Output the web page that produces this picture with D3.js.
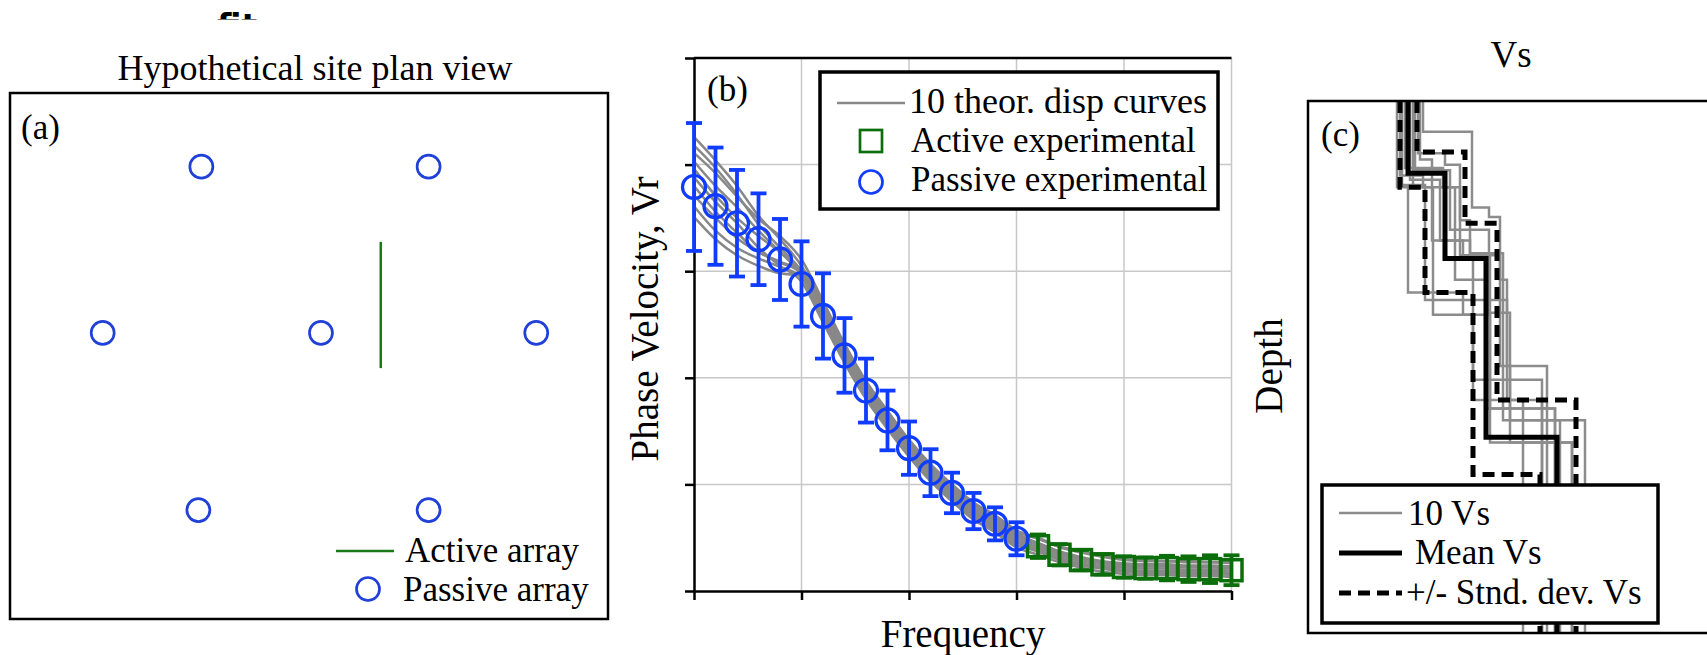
<!DOCTYPE html>
<meta charset="utf-8">
<style>
    body { margin: 0; background: #fff; }
    svg { display: block; font-family: "Liberation Serif", "Times New Roman", Tinos, serif; }
    .grid line { stroke: #c8c8c8; stroke-width: 1.5px; }
    .axis path, .axis line { stroke: #000; stroke-width: 2.5px; }
    .theor { fill: none; stroke: #888; stroke-width: 2.5px; }
    .prof { fill: none; stroke: #8c8c8c; stroke-width: 2.5px; }
    .lbl { font-size: 35px; fill: #000; }
    .ttl { font-size: 39px; fill: #000; }
</style>
<svg width="1707" height="655"></svg>
<script src="https://d3js.org/d3.v7.min.js"></script>
<script>

    // ---- (a) site plan, plan coordinates (0-100 both ways)
    var planX = [32, 70, 15.5, 52, 88, 31.5, 70],
        planY = [14, 14, 45.6, 45.6, 45.6, 79.3, 79.3];
    var activeArrayX = 62,
        activeArrayY = [28.3, 52.3];

    // ---- (b) dispersion data
    var freqPassive = [5, 6, 7, 8, 9, 10, 11, 12, 13, 14, 15, 16, 17, 18, 19, 20],
        vrPassive = [379, 361, 345, 330, 311, 288, 258, 221, 188, 160, 134, 111, 92, 75, 63, 49],
        errPassive = [60, 55, 50, 43, 38, 40, 40, 35, 30, 28, 25, 22, 19, 17, 15.5, 15.5];
    var freqActive = [21, 22, 23, 24, 25, 26, 27, 28, 29, 30],
        vrActive = [42, 34, 29, 25, 22.5, 21.5, 21.5, 20.5, 20.5, 19.5],
        errActive = [11, 10, 9.5, 9.5, 10, 10, 11.5, 12, 13, 14];
    var freqTheor = d3.range(5, 31);
    var theorCurves = [
        [426, 404, 380, 352, 330, 305, 270, 230, 196, 168, 141, 118, 99, 82, 70, 56, 49, 41, 36, 32, 29, 28, 28, 27, 27, 26],
        [418, 397, 372, 344, 322, 300, 262, 224, 193, 165, 139, 116, 97, 80, 68, 54, 45, 37, 31, 27, 25, 24, 24, 23, 23, 22],
        [411, 392, 370, 349, 333, 311, 272, 232, 197, 169, 142, 119, 100, 83, 71, 57, 50, 42, 37, 33, 30, 29, 28, 28, 27, 27],
        [403, 380, 360, 338, 318, 296, 255, 216, 182, 154, 128, 105, 86, 69, 57, 43, 38, 30, 25, 21, 19, 18, 18, 17, 17, 16],
        [396, 371, 350, 333, 318, 300, 266, 228, 191, 163, 137, 114, 95, 78, 66, 52, 45, 37, 32, 28, 26, 25, 25, 24, 24, 23],
        [388, 365, 345, 322, 305, 290, 252, 214, 180, 152, 126, 103, 84, 67, 55, 41, 34, 27, 22, 18, 16, 15, 15, 14, 14, 13],
        [380, 356, 336, 318, 309, 299, 268, 226, 189, 161, 135, 112, 93, 76, 64, 50, 43, 35, 30, 26, 24, 23, 23, 22, 22, 21],
        [371, 350, 331, 318, 308, 298, 264, 222, 185, 157, 131, 108, 89, 72, 60, 46, 39, 31, 26, 22, 20, 19, 19, 18, 18, 17],
        [361, 338, 322, 312, 304, 294, 256, 218, 183, 155, 129, 106, 87, 70, 58, 44, 37, 29, 24, 21, 18, 17, 17, 16, 16, 15],
        [351, 330, 315, 305, 298, 296, 260, 220, 187, 159, 133, 110, 91, 74, 62, 48, 41, 33, 28, 24, 22, 21, 21, 20, 20, 19]
    ];

    // ---- (c) Vs profiles: layer velocities and layer-bottom depths
    var profileVs = [
        [115, 164, 181, 192, 199, 239],
        [110, 137, 152, 162, 182, 247],
        [89, 100, 155, 182, 264],
        [105, 124, 155, 165, 215],
        [92, 115, 125, 165, 234],
        [102, 132, 162, 195, 252],
        [97, 135, 152, 192, 202, 264],
        [112, 124, 147, 179, 247],
        [94, 117, 199, 234],
        [107, 142, 181, 202, 277]
    ];
    var profileDepth = [
        [2.9, 10.0, 10.9, 16.8, 24.9],
        [4.9, 6.0, 11.2, 14.3, 28.9],
        [8.1, 18.0, 20.1, 32.1],
        [8.1, 13.1, 14.9, 28.1],
        [7.0, 8.1, 20.1, 26.2],
        [7.4, 13.1, 14.3, 30.0],
        [6.3, 8.1, 14.5, 24.9, 32.1],
        [5.5, 8.1, 16.8, 28.9],
        [7.9, 18.7, 28.1],
        [6.5, 12.1, 19.9, 30.0]
    ];
    var meanVs = [100, 137, 178, 249],
        meanDepth = [6.8, 14.8, 31.6];
    var plusVs = [109, 157, 189, 268],
        plusDepth = [4.8, 11.5, 28.1];
    var minusVs = [92, 117, 165, 232],
        minusDepth = [8.1, 18.0, 35.1];

    var svg = d3.select("svg");
    var blueA = "#2040d8", blueB = "#0f3cff", green = "#0b6e0b";

    // cropped text peeking in at the very top
    svg.append("clipPath").attr("id", "topclip")
        .append("rect").attr("x", 0).attr("y", 0).attr("width", 400).attr("height", 19.5);
    svg.append("text")
        .attr("clip-path", "url(#topclip)")
        .attr("x", 217).attr("y", 38)
        .style("font-family", "DejaVu Sans, sans-serif")
        .style("font-weight", "bold").style("font-size", "33px")
        .text("fit");

    // ================= (a) =================
    var ax = d3.scaleLinear().domain([0, 100]).range([10, 608]),
        ay = d3.scaleLinear().domain([0, 100]).range([93, 619]);

    svg.append("text").attr("class", "lbl").style("font-size", "36px")
        .attr("x", 315).attr("y", 80).attr("text-anchor", "middle")
        .text("Hypothetical site plan view");

    svg.append("rect")
        .attr("x", 10).attr("y", 93).attr("width", 598).attr("height", 526)
        .attr("fill", "none").attr("stroke", "#000").attr("stroke-width", 2.5);

    svg.append("text").attr("class", "lbl").attr("x", 21).attr("y", 139).text("(a)");

    svg.append("line")
        .attr("x1", ax(activeArrayX)).attr("x2", ax(activeArrayX))
        .attr("y1", ay(activeArrayY[0])).attr("y2", ay(activeArrayY[1]))
        .attr("stroke", "#1a7a1a").attr("stroke-width", 2.5);

    svg.append("g").selectAll("circle")
        .data(planX)
        .enter().append("circle")
        .attr("cx", function(d) { return ax(d); })
        .attr("cy", function(d, i) { return ay(planY[i]); })
        .attr("r", 11.5)
        .attr("fill", "none").attr("stroke", blueA).attr("stroke-width", 2.7);

    // legend (a)
    svg.append("line").attr("x1", 336).attr("x2", 394).attr("y1", 551).attr("y2", 551)
        .attr("stroke", "#1a7a1a").attr("stroke-width", 2.5);
    svg.append("text").attr("class", "lbl").attr("x", 405).attr("y", 562).text("Active array");
    svg.append("circle").attr("cx", 368).attr("cy", 589).attr("r", 11.5)
        .attr("fill", "none").attr("stroke", blueA).attr("stroke-width", 2.7);
    svg.append("text").attr("class", "lbl").attr("x", 403).attr("y", 601).text("Passive array");

    // ================= (b) =================
    var x = d3.scaleLinear().domain([5, 30]).range([694, 1231.5]),
        y = d3.scaleLinear().domain([0, 500]).range([591, 58]);

    var grid = svg.append("g").attr("class", "grid");
    grid.selectAll(".gx").data([10, 15, 20, 25, 30]).enter().append("line")
        .attr("x1", function(d) { return x(d); }).attr("x2", function(d) { return x(d); })
        .attr("y1", y(0)).attr("y2", y(500));
    grid.selectAll(".gy").data([100, 200, 300, 400]).enter().append("line")
        .attr("x1", x(5)).attr("x2", x(30))
        .attr("y1", function(d) { return y(d); }).attr("y2", function(d) { return y(d); });

    svg.append("line").attr("x1", x(5)).attr("x2", x(30)).attr("y1", y(500)).attr("y2", y(500))
        .attr("stroke", "#000").attr("stroke-width", 2.5);

    svg.append("g").attr("class", "axis")
        .attr("transform", "translate(" + x(5) + ",0)")
        .call(d3.axisLeft(y).tickValues([0, 100, 200, 300, 400, 500]).tickSize(9).tickSizeOuter(0).tickFormat(""));
    svg.append("g").attr("class", "axis")
        .attr("transform", "translate(0," + y(0) + ")")
        .call(d3.axisBottom(x).tickValues([5, 10, 15, 20, 25, 30]).tickSize(9).tickSizeOuter(0).tickFormat(""));

    var theorLine = d3.line()
        .curve(d3.curveMonotoneX)
        .x(function(d, i) { return x(freqTheor[i]); })
        .y(function(d) { return y(d); });

    svg.append("g").selectAll("path")
        .data(theorCurves)
        .enter().append("path")
        .attr("class", "theor")
        .attr("d", theorLine);

    function errorBars(g, fx, vals, errs, color) {
        var cap = 8;
        var eb = g.append("g").attr("stroke", color).attr("stroke-width", 3.8);
        vals.forEach(function(v, i) {
            var cx = x(fx[i]), top = y(v + errs[i]), bot = y(v - errs[i]);
            eb.append("line").attr("x1", cx).attr("x2", cx).attr("y1", top).attr("y2", bot);
            eb.append("line").attr("x1", cx - cap).attr("x2", cx + cap).attr("y1", top).attr("y2", top);
            eb.append("line").attr("x1", cx - cap).attr("x2", cx + cap).attr("y1", bot).attr("y2", bot);
        });
    }

    var marks = svg.append("g");
    errorBars(marks, freqActive, vrActive, errActive, green);
    marks.append("g").selectAll("rect")
        .data(vrActive)
        .enter().append("rect")
        .attr("x", function(d, i) { return x(freqActive[i]) - 10.5; })
        .attr("y", function(d) { return y(d) - 10.5; })
        .attr("width", 21).attr("height", 21)
        .attr("fill", "none").attr("stroke", green).attr("stroke-width", 3.5);

    errorBars(marks, freqPassive, vrPassive, errPassive, blueB);
    marks.append("g").selectAll("circle")
        .data(vrPassive)
        .enter().append("circle")
        .attr("cx", function(d, i) { return x(freqPassive[i]); })
        .attr("cy", function(d) { return y(d); })
        .attr("r", 11.5)
        .attr("fill", "none").attr("stroke", blueB).attr("stroke-width", 3.2);

    svg.append("text").attr("class", "lbl").attr("x", 707).attr("y", 101).text("(b)");

    // legend (b)
    var lb = svg.append("g");
    lb.append("rect").attr("x", 820).attr("y", 72).attr("width", 398).attr("height", 137)
        .attr("fill", "#fff").attr("stroke", "#000").attr("stroke-width", 3.5);
    lb.append("line").attr("x1", 837).attr("x2", 905).attr("y1", 103).attr("y2", 103)
        .attr("stroke", "#888").attr("stroke-width", 2.5);
    lb.append("rect").attr("x", 860).attr("y", 130).attr("width", 22).attr("height", 22)
        .attr("fill", "none").attr("stroke", green).attr("stroke-width", 2.7);
    lb.append("circle").attr("cx", 871).attr("cy", 182).attr("r", 11.5)
        .attr("fill", "none").attr("stroke", blueB).attr("stroke-width", 2.7);
    lb.append("text").attr("class", "lbl").style("font-size", "36px").attr("x", 909).attr("y", 113).text("10 theor. disp curves");
    lb.append("text").attr("class", "lbl").attr("x", 911).attr("y", 152).text("Active experimental");
    lb.append("text").attr("class", "lbl").attr("x", 911).attr("y", 191).text("Passive experimental");

    svg.append("text").attr("class", "ttl")
        .attr("transform", "translate(658,319) rotate(-90)")
        .attr("text-anchor", "middle")
        .text("Phase Velocity, Vr");
    svg.append("text").attr("class", "ttl")
        .attr("x", 963).attr("y", 647).attr("text-anchor", "middle")
        .text("Frequency");

    // ================= (c) =================
    var vs = d3.scaleLinear().domain([0, 400]).range([1308, 1708]),
        dep = d3.scaleLinear().domain([0, 50]).range([101, 633]);

    svg.append("clipPath").attr("id", "cclip")
        .append("rect").attr("x", 1308).attr("y", 101).attr("width", 400).attr("height", 532);

    function stepPoints(v, b) {
        var pts = [[v[0], 0]];
        for (var i = 0; i < b.length; i++) {
            pts.push([v[i], b[i]]);
            pts.push([v[i + 1], b[i]]);
        }
        pts.push([v[v.length - 1], 50]);
        return pts;
    }
    var stepLine = d3.line()
        .x(function(d) { return vs(d[0]); })
        .y(function(d) { return dep(d[1]); });

    var pc = svg.append("g").attr("clip-path", "url(#cclip)");
    pc.selectAll(".prof")
        .data(profileVs)
        .enter().append("path")
        .attr("class", "prof")
        .attr("d", function(d, i) { return stepLine(stepPoints(d, profileDepth[i])); });
    pc.append("path")
        .attr("d", stepLine(stepPoints(meanVs, meanDepth)))
        .attr("fill", "none").attr("stroke", "#000").attr("stroke-width", 5);
    [[plusVs, plusDepth], [minusVs, minusDepth]].forEach(function(p) {
        pc.append("path")
            .attr("d", stepLine(stepPoints(p[0], p[1])))
            .attr("fill", "none").attr("stroke", "#000").attr("stroke-width", 5)
            .attr("stroke-dasharray", "12 7");
    });

    svg.append("path")
        .attr("d", "M1709,101 H1308 V633 H1709")
        .attr("fill", "none").attr("stroke", "#000").attr("stroke-width", 2.5);

    svg.append("text").attr("class", "lbl").attr("x", 1321).attr("y", 146).text("(c)");
    svg.append("text").attr("class", "lbl").style("font-size", "37px")
        .attr("x", 1511).attr("y", 67).attr("text-anchor", "middle").text("Vs");
    svg.append("text").attr("class", "ttl")
        .attr("transform", "translate(1282,366) rotate(-90)")
        .attr("text-anchor", "middle")
        .text("Depth");

    // legend (c)
    var lc = svg.append("g");
    lc.append("rect").attr("x", 1322).attr("y", 485).attr("width", 336).attr("height", 138)
        .attr("fill", "#fff").attr("stroke", "#000").attr("stroke-width", 3.5);
    lc.append("line").attr("x1", 1339).attr("x2", 1402).attr("y1", 513).attr("y2", 513)
        .attr("stroke", "#8c8c8c").attr("stroke-width", 2.5);
    lc.append("line").attr("x1", 1339).attr("x2", 1402).attr("y1", 553).attr("y2", 553)
        .attr("stroke", "#000").attr("stroke-width", 5);
    lc.append("line").attr("x1", 1339).attr("x2", 1402).attr("y1", 593).attr("y2", 593)
        .attr("stroke", "#000").attr("stroke-width", 5).attr("stroke-dasharray", "12 7");
    lc.append("text").attr("class", "lbl").attr("x", 1408).attr("y", 525).text("10 Vs");
    lc.append("text").attr("class", "lbl").attr("x", 1415).attr("y", 564).text("Mean Vs");
    lc.append("text").attr("class", "lbl").attr("x", 1406).attr("y", 604).text("+/- Stnd. dev. Vs");

</script>
